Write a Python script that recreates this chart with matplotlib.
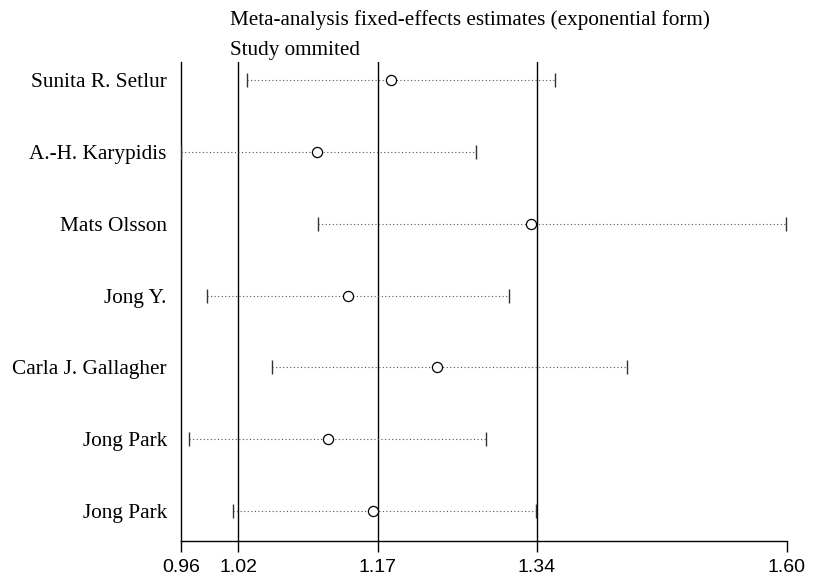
import matplotlib
matplotlib.use("Agg")
import matplotlib.pyplot as plt

studies = ["Sunita R. Setlur", "A.-H. Karypidis", "Mats Olsson", "Jong Y.",
           "Carla J. Gallagher", "Jong Park", "Jong Park"]
lower = [1.030, 0.960, 1.105, 0.988, 1.056, 0.969, 1.015]
estimate = [1.182, 1.104, 1.330, 1.137, 1.231, 1.116, 1.163]
upper = [1.355, 1.272, 1.599, 1.307, 1.432, 1.283, 1.335]

overall_lower = 1.021
overall_est = 1.168
overall_upper = 1.336

tick_values = [0.96, 1.021, 1.168, 1.336, 1.60]
tick_labels = ["0.96", "1.02", "1.17", "1.34", "1.60"]

W, H = 817, 581
fig = plt.figure(figsize=(W / 100, H / 100), dpi=100)
left_px, right_px, top_px, bot_px = 180.7, 786.5, 62, 541
ax = fig.add_axes([left_px / W, 1 - bot_px / H, (right_px - left_px) / W, (bot_px - top_px) / H])

ax.set_xlim(0.96, 1.60)
row0, row6 = 80, 511
sp = (row6 - row0) / 6
ax.set_ylim(6 + (bot_px - row6) / sp, -(row0 - top_px) / sp)

for v in [overall_lower, overall_est, overall_upper]:
    ax.axvline(v, color="black", lw=1.0, zorder=1)

for i in range(len(studies)):
    ax.plot([lower[i], upper[i]], [i, i], color="#555555", lw=0.8,
            linestyle=(0, (1, 2.2)), zorder=2)
    ax.plot([lower[i], upper[i]], [i, i], linestyle="none", marker="|",
            markersize=10, markeredgewidth=1.0, color="#333333", zorder=3)
    ax.plot(estimate[i], i, marker="o", markersize=7.3, markerfacecolor="white",
            markeredgecolor="black", markeredgewidth=0.9, linestyle="none", zorder=4)

ax.spines["top"].set_visible(False)
ax.spines["right"].set_visible(False)
ax.spines["left"].set_linewidth(1.0)
ax.spines["bottom"].set_linewidth(1.0)

ax.set_xticks(tick_values)
ax.set_xticklabels(tick_labels, fontfamily="Liberation Sans", fontsize=14)
ax.tick_params(axis="x", direction="out", length=8, width=1.0, pad=5)

ax.set_yticks(range(len(studies)))
ax.set_yticklabels(studies, fontfamily="Liberation Serif", fontsize=15.3)
ax.tick_params(axis="y", length=0, pad=10)

fig.text(230 / W, 1 - 20 / H, "Meta-analysis fixed-effects estimates (exponential form)",
         fontfamily="Liberation Serif", fontsize=15.2, va="center", ha="left")
fig.text(230 / W, 1 - 50 / H, "Study ommited",
         fontfamily="Liberation Serif", fontsize=15.2, va="center", ha="left")

fig.savefig("out.png", dpi=100)
